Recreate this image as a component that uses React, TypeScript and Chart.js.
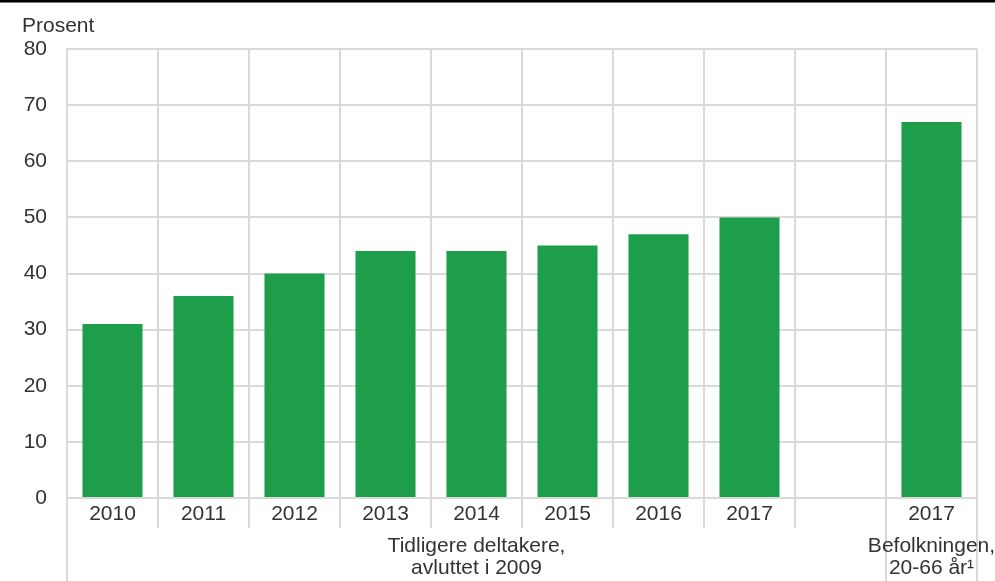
import React, { useEffect, useRef } from "react";
import { Chart, registerables } from "chart.js";

Chart.register(...registerables);

const categories = ["2010", "2011", "2012", "2013", "2014", "2015", "2016", "2017", "", "2017"];
const values: (number | null)[] = [31, 36, 40, 44, 44, 45, 47, 50, null, 67];
const groupLabels: string[][] = [
  ["Tidligere deltakere,", "avluttet i 2009"],
  ["Befolkningen,", "20-66 år¹"],
];
const groupSpans = [9, 1];
const yTitle = "Prosent";
const yMin = 0;
const yMax = 80;
const yStep = 10;

const FONT = "'Liberation Sans', Arial, sans-serif";
const TEXT = "#333333";
const GRID = "#d9d9d9";
const BAR = "#1e9e4b";

export default function App() {
  const ref = useRef<HTMLCanvasElement | null>(null);

  useEffect(() => {
    if (!ref.current) return;
    const extras = {
      id: "extras",
      beforeDatasetsDraw(chart: any) {
        const ctx = chart.ctx;
        const x = chart.scales.x;
        const n = categories.length;
        const w = (x.right - x.left) / n;
        const bottom = x.top;
        ctx.save();
        ctx.strokeStyle = GRID;
        ctx.lineWidth = 2;
        // boundaries of group edges
        const groupEdges = new Set<number>([0]);
        let acc = 0;
        groupSpans.forEach((s) => {
          acc += s;
          groupEdges.add(acc);
        });
        for (let k = 0; k <= n; k++) {
          const px = Math.round(x.left + k * w);
          const yEnd = groupEdges.has(k) ? chart.height : bottom + 30;
          ctx.beginPath();
          ctx.moveTo(px, bottom);
          ctx.lineTo(px, yEnd);
          ctx.stroke();
        }
        ctx.restore();
      },
      afterDraw(chart: any) {
        const ctx = chart.ctx;
        const x = chart.scales.x;
        const n = categories.length;
        const w = (x.right - x.left) / n;
        ctx.save();
        // top rule
        ctx.fillStyle = "#000000";
        ctx.fillRect(0, 0, chart.width, 2.5);
        // y title
        ctx.fillStyle = TEXT;
        ctx.font = `21px ${FONT}`;
        ctx.textBaseline = "alphabetic";
        ctx.textAlign = "left";
        ctx.fillText(yTitle, 22, 32);
        // group labels
        ctx.textAlign = "center";
        let start = 0;
        groupSpans.forEach((s, gi) => {
          const cx = x.left + (start + s / 2) * w;
          groupLabels[gi].forEach((line, li) => {
            ctx.fillText(line, cx, 552 + li * 21.5);
          });
          start += s;
        });
        ctx.restore();
      },
    };

    const chart = new Chart(ref.current, {
      type: "bar",
      data: {
        labels: categories,
        datasets: [
          {
            data: values,
            backgroundColor: BAR,
            borderWidth: 0,
            categoryPercentage: 1,
            barPercentage: 0.66,
          },
        ],
      },
      options: {
        responsive: false,
        animation: false,
        devicePixelRatio: 1,
        layout: { padding: { left: 0, right: 18, top: 49, bottom: 0 } },
        plugins: { legend: { display: false }, tooltip: { enabled: false } },
        scales: {
          x: {
            offset: true,
            grid: {
              offset: true,
              color: GRID,
              lineWidth: 2,
              drawTicks: false,
            },
            border: { color: GRID, width: 2 },
            ticks: {
              color: TEXT,
              font: { family: FONT, size: 21 },
              padding: 4,
              maxRotation: 0,
              autoSkip: false,
            },
            afterFit: (s: any) => {
              s.height = 83;
            },
          },
          y: {
            min: yMin,
            max: yMax,
            grid: { color: GRID, lineWidth: 2, drawTicks: false },
            border: { color: GRID, width: 2 },
            ticks: {
              stepSize: yStep,
              color: TEXT,
              font: { family: FONT, size: 21 },
              padding: 20,
            },
            afterFit: (s: any) => {
              s.width = 67;
            },
          },
        },
      },
      plugins: [extras],
    });
    return () => chart.destroy();
  }, []);

  return (
    <div style={{ position: "absolute", left: 0, top: 0, width: 995, height: 581, background: "#fff" }}>
      <canvas ref={ref} width={995} height={581} style={{ display: "block" }} />
    </div>
  );
}
